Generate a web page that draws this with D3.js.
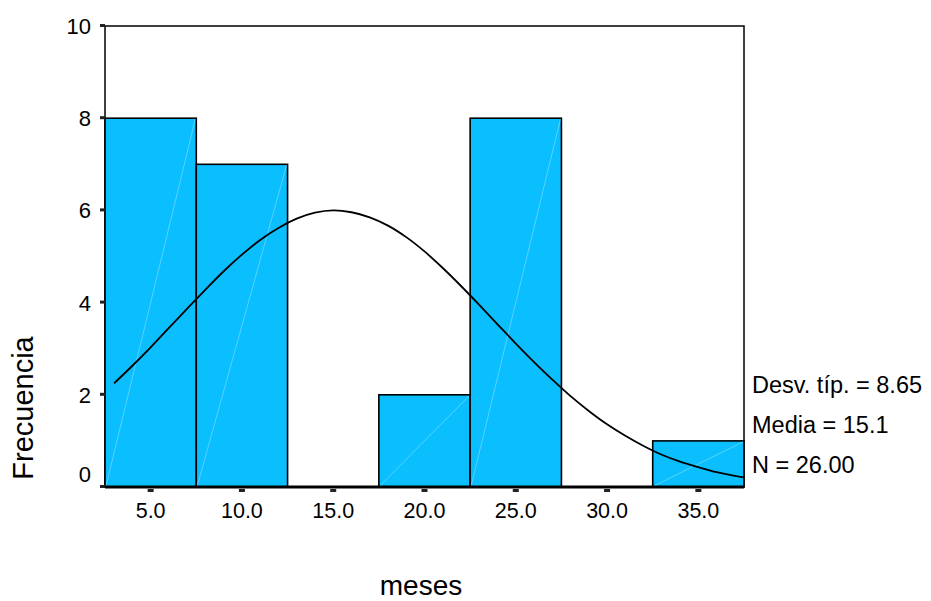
<!DOCTYPE html>
<html>
<head>
<meta charset="utf-8">
<script src="https://cdn.jsdelivr.net/npm/d3@7"></script>
<style>
  body { margin: 0; background: #fff; }
  text { font-family: Arial, "Liberation Sans", sans-serif; fill: #000; }
</style>
</head>
<body>
<div id="graph"></div>
<script>
// histogram bins (midpoints) and counts
const binMids = [5, 10, 15, 20, 25, 30, 35];
const counts = [8, 7, 0, 2, 8, 0, 1];
const binWidth = 5;
const xTicks = [5, 10, 15, 20, 25, 30, 35];
const yTicks = [0, 2, 4, 6, 8, 10];
// normal curve
const curveX = [3, 4, 5, 6, 7, 8, 9, 10, 11, 12, 13, 14, 15, 16, 17, 18, 19, 20,
  21, 22, 23, 24, 25, 26, 27, 28, 29, 30, 31, 32, 33, 34, 35, 36, 37, 37.5];
const curveY = [2.25, 2.63, 3.03, 3.45, 3.87, 4.28, 4.68, 5.04, 5.36, 5.62, 5.82, 5.95, 6.0, 5.96, 5.85, 5.67, 5.42, 5.11,
  4.75, 4.36, 3.95, 3.53, 3.11, 2.71, 2.33, 1.97, 1.65, 1.36, 1.11, 0.89, 0.70, 0.55, 0.43, 0.32, 0.24, 0.21];
const stats = ["Desv. típ. = 8.65", "Media = 15.1", "N = 26.00"];

const W = 931, H = 601;
const margin = {top: 26, right: 187, bottom: 114, left: 105};

const svg = d3.select("#graph").append("svg")
    .attr("width", W)
    .attr("height", H);

const x = d3.scaleLinear().domain([2.5, 37.5]).range([margin.left, W - margin.right]);
const y = d3.scaleLinear().domain([0, 10]).range([H - margin.bottom, margin.top]);

// frame
svg.append("rect")
    .attr("x", x(2.5)).attr("y", y(10))
    .attr("width", x(37.5) - x(2.5)).attr("height", y(0) - y(10))
    .attr("fill", "none").attr("stroke", "#000").attr("stroke-width", 1.5);

// bars
const bars = svg.append("g");
binMids.forEach((m, i) => {
  if (counts[i] <= 0) return;
  const x0 = x(m - binWidth / 2), x1 = x(m + binWidth / 2), y0 = y(0), y1 = y(counts[i]);
  bars.append("rect")
      .attr("x", x0).attr("y", y1)
      .attr("width", x1 - x0).attr("height", y0 - y1)
      .attr("fill", "#0bbfff")
      .attr("stroke", "#000").attr("stroke-width", 1.6);
  bars.append("line")
      .attr("x1", x0 + 1).attr("y1", y0 - 1)
      .attr("x2", x1 - 1).attr("y2", y1 + 1)
      .attr("stroke", "#fff").attr("stroke-opacity", 0.3).attr("stroke-width", 1);
});

// normal curve
svg.append("path")
    .datum(curveX.map((v, i) => [v, curveY[i]]))
    .attr("fill", "none")
    .attr("stroke", "#000")
    .attr("stroke-width", 1.8)
    .attr("d", d3.line().x(d => x(d[0])).y(d => y(d[1])).curve(d3.curveCatmullRom));

// bottom axis line (heavier)
svg.append("line")
    .attr("x1", x(2.5)).attr("x2", x(37.5))
    .attr("y1", y(0)).attr("y2", y(0))
    .attr("stroke", "#000").attr("stroke-width", 3);

// x ticks
const xg = svg.append("g");
xTicks.forEach(t => {
  xg.append("rect")
      .attr("x", x(t) - 3).attr("y", y(0) + 2)
      .attr("width", 6).attr("height", 3)
      .attr("fill", "#222");
  xg.append("text")
      .attr("x", x(t)).attr("y", y(0) + 31)
      .attr("text-anchor", "middle")
      .style("font-size", "21.5px")
      .text(d3.format(".1f")(t));
});

// y ticks
const yg = svg.append("g");
yTicks.forEach(t => {
  yg.append("rect")
      .attr("x", x(2.5) - 5).attr("y", y(t) - 2)
      .attr("width", 5).attr("height", 3)
      .attr("fill", "#222");
  yg.append("text")
      .attr("x", x(2.5) - 14).attr("y", y(t) + (t === 0 ? -5 : 8))
      .attr("text-anchor", "end")
      .style("font-size", "22px")
      .text(t);
});

// axis titles
svg.append("text")
    .attr("transform", `translate(33, 408) rotate(-90)`)
    .attr("text-anchor", "middle")
    .style("font-size", "29px")
    .text("Frecuencia");

svg.append("text")
    .attr("x", 421).attr("y", 595)
    .attr("text-anchor", "middle")
    .style("font-size", "28px")
    .text("meses");

// stats
stats.forEach((s, i) => {
  svg.append("text")
      .attr("x", 752).attr("y", 393 + i * 40)
      .style("font-size", "23.5px")
      .text(s);
});
</script>
</body>
</html>
